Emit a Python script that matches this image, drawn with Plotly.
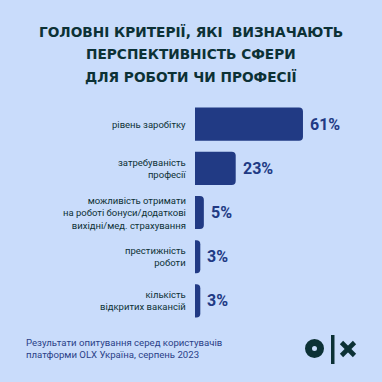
import plotly.graph_objects as go

categories = [
    "рівень заробітку",
    "затребуваність<br>професії",
    "можливість отримати<br>на роботі бонуси/додаткові<br>вихідні/мед. страхування",
    "престижність<br>роботи",
    "кількість<br>відкритих вакансій",
]
values = [61, 23, 5, 3, 3]
value_labels = [f"{v}%" for v in values]

title_lines = ["ГОЛОВНІ КРИТЕРІЇ, ЯКІ  ВИЗНАЧАЮТЬ", "ПЕРСПЕКТИВНІСТЬ СФЕРИ", "ДЛЯ РОБОТИ ЧИ ПРОФЕСІЇ"]
footnote = "Результати опитування серед користувачів<br>платформи OLX Україна, серпень 2023"

BG = "#c9dcfb"
BAR = "#213a84"
DARK = "#0c3135"
NAVY = "#2a3f88"

W = H = 382
x0_px = 195
px_per_unit = 1.77
x_span = (W - x0_px) / px_per_unit

fig = go.Figure()
fig.add_trace(go.Bar(
    x=values, y=list(range(len(categories))), orientation="h",
    marker=dict(color=BAR, cornerradius=4, line=dict(width=0)),
    hoverinfo="skip",
))

for i, (v, c, t) in enumerate(zip(values, categories, value_labels)):
    fig.add_annotation(x=v, y=i, text=f"<b>{t}</b>", showarrow=False,
                       xanchor="left", yanchor="middle", xshift=5,
                       font=dict(family="Roboto", size=16, color=BAR))
    fig.add_annotation(x=0, y=i, text=c, showarrow=False,
                       xanchor="right", yanchor="middle", xshift=-7, align="right",
                       font=dict(family="Roboto", size=9.5, color=DARK))

# title
for k, (line, ypx) in enumerate(zip(title_lines, [32, 54, 77])):
    fig.add_annotation(x=0.5, y=1 - ypx / H, xref="paper", yref="paper", text=f"<b>{line}</b>",
                       showarrow=False, xanchor="center", yanchor="middle",
                       font=dict(family="DejaVu Sans", size=13.7, color=DARK))
# footnote
fig.add_annotation(x=24 / W, y=1 - 348 / H, xref="paper", yref="paper", text=footnote,
                   showarrow=False, xanchor="left", yanchor="middle", align="left",
                   font=dict(family="Roboto", size=9.6, color=NAVY))

# OLX logo
fig.add_shape(type="circle", xref="paper", yref="paper",
              x0=308.5 / W, x1=320.5 / W, y0=1 - 354.5 / H, y1=1 - 342.5 / H,
              line=dict(color=DARK, width=7), fillcolor="rgba(0,0,0,0)")
fig.add_shape(type="rect", xref="paper", yref="paper",
              x0=331 / W, x1=334.5 / W, y0=1 - 364 / H, y1=1 - 335 / H,
              line=dict(width=0), fillcolor=DARK)
fig.add_shape(type="line", xref="paper", yref="paper",
              x0=341.5 / W, x1=354.5 / W, y0=1 - 342.5 / H, y1=1 - 355.5 / H,
              line=dict(color=DARK, width=4.6))
fig.add_shape(type="line", xref="paper", yref="paper",
              x0=341.5 / W, x1=354.5 / W, y0=1 - 355.5 / H, y1=1 - 342.5 / H,
              line=dict(color=DARK, width=4.6))

fig.update_layout(
    width=W, height=H,
    margin=dict(l=0, r=0, t=0, b=0),
    paper_bgcolor=BG, plot_bgcolor=BG,
    showlegend=False, bargap=0.25,
    xaxis=dict(domain=[x0_px / W, 1], range=[0, x_span], visible=False, fixedrange=True),
    yaxis=dict(domain=[1 - 323 / H, 1 - 102 / H], range=[len(categories) - 0.5, -0.5],
               visible=False, fixedrange=True),
)

fig.write_html("out.html", config={"displayModeBar": False},
               post_script="document.body.style.margin='0';")
